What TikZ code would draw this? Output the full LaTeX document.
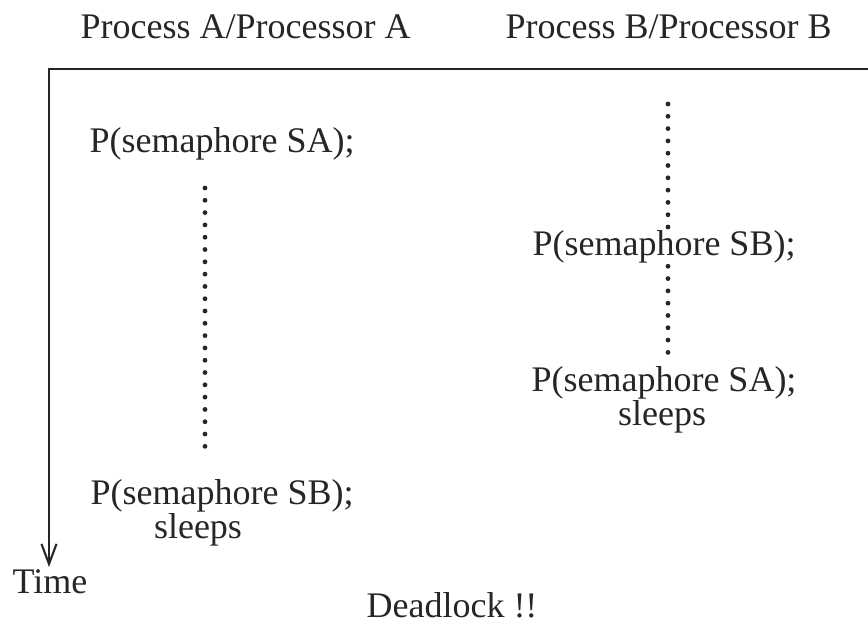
\documentclass[tikz,border=0pt]{standalone}
\usepackage{fontspec}
\setmainfont{Liberation Serif}
\usetikzlibrary{arrows.meta}

\begin{document}
\begin{tikzpicture}[
    x=0.3333pt, y=-0.3333pt,
    every node/.style={font=\fontsize{12}{14}\selectfont, inner sep=0pt, text=black!85},
% Text and line styles
    stmt/.style={anchor=base west},
    stmtc/.style={anchor=base},
    dots/.style={line width=1.6pt, dash pattern=on 0pt off 4.1pt, line cap=round, black!85},
    axis/.style={line width=0.7pt, black!85}
]
\useasboundingbox (0,0) rectangle (868,623);

% 1. Column headings
\node[stmt] (headA) at (80, 38) {Process A/Processor A};
\node[stmt] (headB) at (505, 38) {Process B/Processor B};

% 2. Time frame
\coordinate (corner) at (49, 69);
\coordinate (frameend) at (868, 69);
\coordinate (timeend) at (49, 567);
\draw[axis, -{Straight Barb[length=6.7pt, width=5pt, line width=0.7pt]}] (frameend) -- (corner) -- (timeend);
\node[stmtc] (time) at (50, 593) {Time};

% 3. Process A
\node[stmt] (asa) at (89, 152) {P(semaphore SA);};
\node[stmt] (asb) at (90, 504) {P(semaphore SB);};
\node[stmtc] (asleep) at (198, 538) {sleeps};
\coordinate (atop) at (205, 188);
\coordinate (abot) at (205, 457);
\draw[dots] (atop) -- (abot);

% 4. Process B
\coordinate (btop) at (668, 104);
\node[stmtc] (bsb) at (664, 255) {P(semaphore SB);};
\node[stmtc] (bsa) at (664, 391) {P(semaphore SA);};
\node[stmtc] (bsleep) at (662, 425) {sleeps};
\draw[dots] (btop) -- (btop |- bsb.north);
\draw[dots] ([yshift=-1pt]bsb.south -| btop) -- ([yshift=2pt]bsa.north -| btop);

% 5. Outcome
\node[stmtc] (deadlock) at (452, 617) {Deadlock !!};

\end{tikzpicture}
\end{document}
